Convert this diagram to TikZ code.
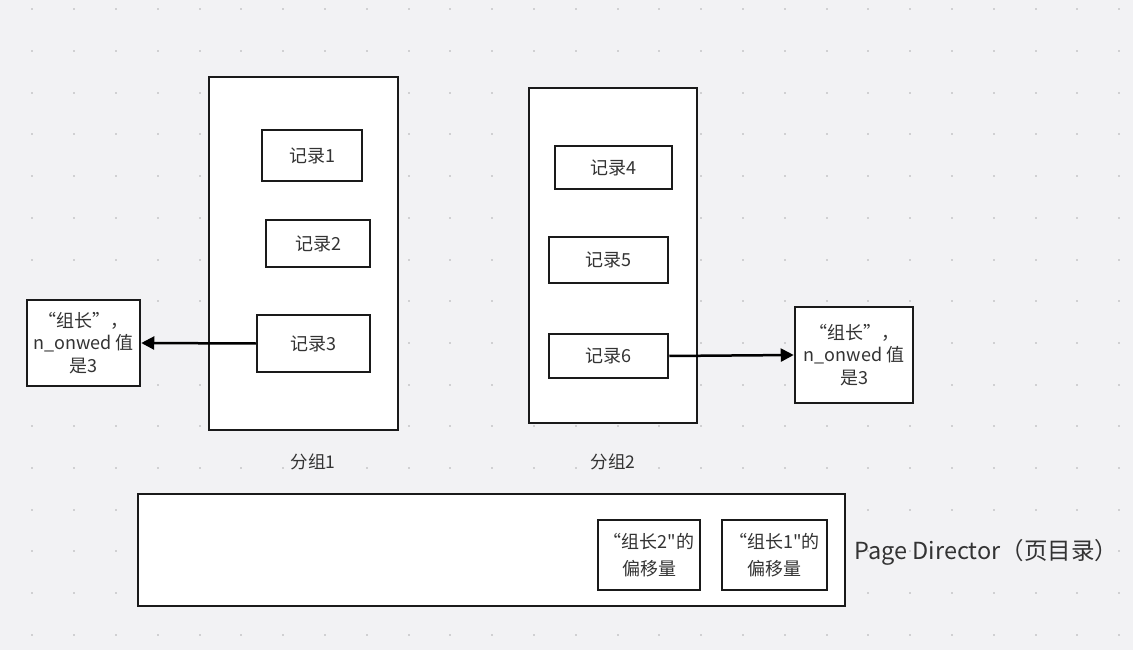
\documentclass[tikz,border=0pt]{standalone}
\usepackage{fontspec}
\setmainfont{Noto Sans CJK SC}[Ligatures=TeXOff]
\usetikzlibrary{arrows.meta}
\definecolor{bgpaper}{HTML}{F2F2F4}
\definecolor{griddot}{HTML}{D0D0D2}
\definecolor{inkline}{HTML}{1A1A1A}
\definecolor{inktext}{HTML}{333333}
\begin{document}
\begin{tikzpicture}[x=1pt,y=-1pt,box/.style={draw=inkline,fill=white,line width=2.5pt,inner sep=0pt,align=center,text=inktext,font=\fontsize{18}{22.5}\selectfont},arrow/.style={-{Triangle[length=13pt,width=13pt]},line width=2.5pt,draw=black},caption/.style={text=inktext,font=\fontsize{17.5}{20}\selectfont}]
\fill[bgpaper] (0,0) rectangle (1133,650);
\useasboundingbox (0,0) rectangle (1133,650);
\foreach \i in {0,...,26}
  \foreach \j in {0,...,15}
    \fill[griddot] (32.3+41.8*\i-1,9.3+41.7*\j-1) rectangle ++(2,2);
% group 1
\node[box,minimum width=189pt,minimum height=353pt] (g1) at (303.5,253.5) {};
\node[box,minimum width=100pt,minimum height=51pt] (r1) at (312,155.5) {记录1};
\node[box,minimum width=104pt,minimum height=47pt] (r2) at (318,243.5) {记录2};
\node[box,minimum width=113pt,minimum height=57pt] (r3) at (313.5,343.5) {记录3};
\node[caption] (c1) at (313,462) {分组1};
% group 2
\node[box,minimum width=168pt,minimum height=335pt] (g2) at (613,255.5) {};
\node[box,minimum width=117pt,minimum height=43pt] (r4) at (613.5,167.5) {记录4};
\node[box,minimum width=119pt,minimum height=46pt] (r5) at (608.5,260) {记录5};
\node[box,minimum width=119pt,minimum height=44pt] (r6) at (608.5,356) {记录6};
\node[caption] (c2) at (613,462) {分组2};
% owners
\node[box,minimum width=113pt,minimum height=86pt] (o1) at (83.5,343) {“组长”，\\n\_onwed 值\\是3};
\node[box,minimum width=118pt,minimum height=96pt] (o2) at (854,355) {“组长”，\\n\_onwed 值\\是3};
\draw[arrow] (r3.west) -- (o1.east);
\draw[arrow] (r6.east) -- (o2.west);
% page directory
\node[box,minimum width=707pt,minimum height=112pt] (pd) at (491.5,550) {};
\node[box,minimum width=102pt,minimum height=70pt,font=\fontsize{18}{27}\selectfont] (s2) at (649,555) {“组长2"的\\偏移量};
\node[box,minimum width=105pt,minimum height=70pt,font=\fontsize{18}{27}\selectfont] (s1) at (774.5,555) {“组长1"的\\偏移量};
\node[caption,anchor=west,font=\fontsize{23.5}{28}\selectfont] (pdl) at (851,552) {Page Director（页目录）};
\end{tikzpicture}
\end{document}
